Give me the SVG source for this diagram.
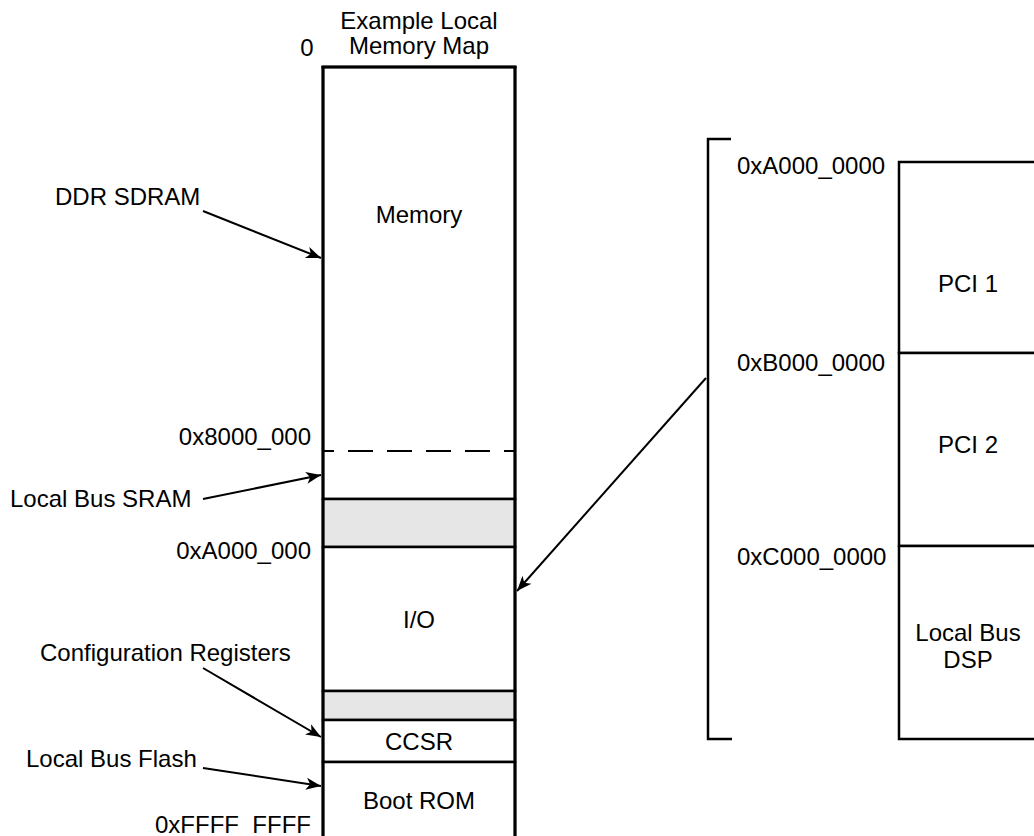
<svg xmlns="http://www.w3.org/2000/svg" width="1034" height="836" viewBox="0 0 1034 836">
<style>
text{font-family:"Liberation Sans",Arial,Helvetica,sans-serif;font-size:24px;fill:#000}
.c{text-anchor:middle}
.r{text-anchor:end}
.box{fill:#fff;stroke:#000;stroke-width:2.5}
.gray{fill:#e6e6e6;stroke:#000;stroke-width:2.5}
.edge{fill:none;stroke:#000;stroke-width:3}
.conn{fill:none;stroke:#000;stroke-width:2;marker-end:url(#ah)}
</style>
<defs>
<marker id="ah" markerUnits="userSpaceOnUse" markerWidth="20" markerHeight="14" viewBox="-16 -7 18 14" refX="0" refY="0" orient="auto">
<path d="M0,0 L-15,-6 L-11,0 L-15,6 Z" fill="#000"/>
</marker>
</defs>
<rect width="1034" height="836" fill="#fff"/>

<g id="title">
<text class="c" x="419" y="29">Example Local</text>
<text class="c" x="419" y="54">Memory Map</text>
<text class="c" x="307" y="56">0</text>
</g>

<g id="memory">
<rect class="box" x="323" y="67" width="192" height="432"/>
<line x1="323" y1="451" x2="515" y2="451" stroke="#000" stroke-width="2" stroke-dasharray="25 14" stroke-dashoffset="14"/>
<text class="c" x="419" y="223">Memory</text>
</g>
<g id="gap1"><rect class="gray" x="323" y="499" width="192" height="48"/></g>
<g id="io">
<rect class="box" x="323" y="547" width="192" height="144"/>
<text class="c" x="419" y="628">I/O</text>
</g>
<g id="gap2"><rect class="gray" x="323" y="691" width="192" height="29"/></g>
<g id="ccsr">
<rect class="box" x="323" y="720" width="192" height="42"/>
<text class="c" x="419" y="750">CCSR</text>
</g>
<g id="bootrom">
<rect class="box" x="323" y="762" width="192" height="90"/>
<text class="c" x="419" y="809">Boot ROM</text>
</g>
<g id="column-edges">
<line class="edge" x1="323" y1="66" x2="323" y2="840"/>
<line class="edge" x1="515" y1="66" x2="515" y2="840"/>
<line class="edge" x1="321.5" y1="67" x2="516.5" y2="67"/>
</g>

<g id="left-labels">
<text x="55" y="205">DDR SDRAM</text>
<text class="r" x="311" y="445">0x8000_000</text>
<text x="10" y="507">Local Bus SRAM</text>
<text class="r" x="311" y="559">0xA000_000</text>
<text x="40" y="661">Configuration Registers</text>
<text x="26" y="767">Local Bus Flash</text>
<text class="r" x="311" y="833">0xFFFF_FFFF</text>
</g>

<g id="bracket">
<path d="M731,139 H708 V739 H732" fill="none" stroke="#000" stroke-width="2.5"/>
<text x="737" y="174">0xA000_0000</text>
<text x="737" y="371">0xB000_0000</text>
<text x="737" y="565">0xC000_0000</text>
</g>
<g id="pci1">
<rect class="box" x="899" y="162" width="150" height="191"/>
<text class="c" x="968" y="292">PCI 1</text>
</g>
<g id="pci2">
<rect class="box" x="899" y="353" width="150" height="193"/>
<text class="c" x="968" y="453">PCI 2</text>
</g>
<g id="lbdsp">
<rect class="box" x="899" y="546" width="150" height="193"/>
<text class="c" x="968" y="641">Local Bus</text>
<text class="c" x="968" y="668">DSP</text>
</g>

<g id="connectors">
<line class="conn" x1="203" y1="211" x2="321" y2="258"/>
<line class="conn" x1="203" y1="499" x2="321" y2="475"/>
<line class="conn" x1="203" y1="668" x2="321" y2="737"/>
<line class="conn" x1="203" y1="768" x2="321" y2="786"/>
<line class="conn" x1="706" y1="378" x2="517" y2="591"/>
</g>
</svg>
